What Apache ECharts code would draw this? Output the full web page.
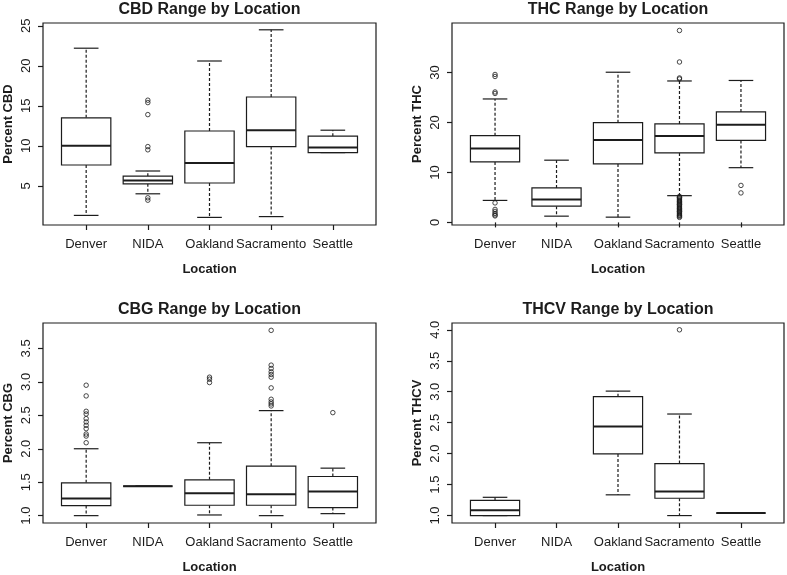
<!DOCTYPE html>
<html lang="en">
<head>
    <meta charset="utf-8"/>
    <title>Cannabinoid Range by Location</title>
    <script src="https://cdn.jsdelivr.net/npm/echarts@6/dist/echarts.min.js"></script>
    <style>
        html, body { margin: 0; background: #FFFFFF; }
        #chart { width: 787px; height: 575px; }
    </style>
</head>
<body>
<div id="chart"></div>
<script>
    // categories on every x axis
    var locations = ['Denver', 'NIDA', 'Oakland', 'Sacramento', 'Seattle'];

    // box stats per location: [min whisker, Q1, median, Q3, max whisker], null = no data
    var cbdBoxes = [
        [1.3, 7.6, 10.0, 13.5, 22.2],
        [4.0, 5.25, 5.65, 6.2, 6.85],
        [1.05, 5.35, 7.85, 11.85, 20.6],
        [1.15, 9.9, 11.95, 16.1, 24.5],
        [9.15, 9.15, 9.8, 11.2, 11.95]
    ];
    var cbdOutliers = [
        [],
        [15.7, 15.4, 13.9, 9.9, 9.5, 3.5, 3.2],
        [],
        [],
        []
    ];

    var thcBoxes = [
        [4.4, 12.1, 14.8, 17.35, 24.7],
        [1.25, 3.25, 4.6, 6.9, 12.45],
        [1.05, 11.7, 16.5, 19.95, 30.05],
        [5.35, 13.9, 17.3, 19.7, 28.3],
        [10.95, 16.4, 19.55, 22.1, 28.4]
    ];
    var thcOutliers = [
        [29.6, 29.2, 26.1, 25.8, 3.9, 2.6, 2.2, 1.8, 1.5, 1.3],
        [],
        [],
        [38.4, 32.1, 28.9, 28.7, 5.2, 5.0, 4.9, 4.7, 4.5, 4.3, 4.2, 4.0, 3.8, 3.6, 3.5,
         3.3, 3.1, 2.9, 2.8, 2.6, 2.4, 2.2, 2.1, 1.9, 1.7, 1.5, 1.4, 1.2, 1.0],
        [7.4, 5.9]
    ];

    var cbgBoxes = [
        [1.0, 1.15, 1.255, 1.49, 2.0],
        [1.44, 1.44, 1.44, 1.44, 1.44],
        [1.01, 1.155, 1.335, 1.535, 2.09],
        [1.0, 1.155, 1.32, 1.74, 2.57],
        [1.03, 1.12, 1.36, 1.585, 1.71]
    ];
    var cbgOutliers = [
        [2.95, 2.79, 2.56, 2.52, 2.45, 2.40, 2.35, 2.30, 2.22, 2.19, 2.09],
        [],
        [3.07, 3.04, 2.99],
        [3.77, 3.25, 3.20, 3.15, 3.11, 3.07, 2.91, 2.74, 2.70, 2.67, 2.64],
        [2.54]
    ];

    var thcvBoxes = [
        [1.0, 1.0, 1.085, 1.245, 1.295],
        null,
        [1.335, 1.995, 2.44, 2.92, 3.01],
        [1.0, 1.28, 1.39, 1.84, 2.64],
        [1.04, 1.04, 1.04, 1.04, 1.04]
    ];
    var thcvOutliers = [[], [], [], [4.0], []];

    // y tick labels per panel
    var cbdTicks = [5, 10, 15, 20, 25];
    var thcTicks = [0, 10, 20, 30];
    var cbgTicks = [1.0, 1.5, 2.0, 2.5, 3.0, 3.5];
    var thcvTicks = [1.0, 1.5, 2.0, 2.5, 3.0, 3.5, 4.0];

    var ink = '#1c1c1c';
    var font = 'Liberation Sans, Arial, Helvetica, sans-serif';

    var panels = [
        {title: 'CBD Range by Location', yName: 'Percent CBD', boxes: cbdBoxes, outliers: cbdOutliers,
            ticks: cbdTicks, digits: 0, yMin: 0.1, yMax: 25.35, titleY: 1.5,
            grid: {left: 43, top: 23, width: 333, height: 202}},
        {title: 'THC Range by Location', yName: 'Percent THC', boxes: thcBoxes, outliers: thcOutliers,
            ticks: thcTicks, digits: 0, yMin: -0.52, yMax: 39.9, titleY: 1.5,
            grid: {left: 452, top: 23, width: 332, height: 202}},
        {title: 'CBG Range by Location', yName: 'Percent CBG', boxes: cbgBoxes, outliers: cbgOutliers,
            ticks: cbgTicks, digits: 1, yMin: 0.89, yMax: 3.88, titleY: 302,
            grid: {left: 43, top: 323, width: 333, height: 202}},
        {title: 'THCV Range by Location', yName: 'Percent THCV', boxes: thcvBoxes, outliers: thcvOutliers,
            ticks: thcvTicks, digits: 1, yMin: 0.88, yMax: 4.11, titleY: 302,
            grid: {left: 452, top: 323, width: 332, height: 202}}
    ];

    // R style box: dashed whiskers, half width staples
    function renderBox(params, api) {
        var x = api.value(0);
        var lo = api.value(1), q1 = api.value(2), med = api.value(3), q3 = api.value(4), hi = api.value(5);
        var w = api.size([0.8, 0])[0];
        var cx = api.coord([x, med])[0];
        var y = function (v) { return api.coord([x, v])[1]; };
        var line = {stroke: ink, lineWidth: 1.2};
        var dash = {stroke: ink, lineWidth: 1.2, lineDash: [3, 2]};
        var kids = [
            {type: 'line', shape: {x1: cx, y1: y(q3), x2: cx, y2: y(hi)}, style: dash},
            {type: 'line', shape: {x1: cx, y1: y(q1), x2: cx, y2: y(lo)}, style: dash},
            {type: 'line', shape: {x1: cx - w / 4, y1: y(hi), x2: cx + w / 4, y2: y(hi)}, style: line},
            {type: 'line', shape: {x1: cx - w / 4, y1: y(lo), x2: cx + w / 4, y2: y(lo)}, style: line},
            {type: 'rect', shape: {x: cx - w / 2, y: y(q3), width: w, height: y(q1) - y(q3)},
                style: {fill: '#fff', stroke: ink, lineWidth: 1.2}},
            {type: 'line', shape: {x1: cx - w / 2, y1: y(med), x2: cx + w / 2, y2: y(med)},
                style: {stroke: ink, lineWidth: 2}}
        ];
        return {type: 'group', children: kids};
    }

    var grids = [], xAxes = [], yAxes = [], series = [], graphics = [];

    panels.forEach(function (p, i) {
        grids.push(Object.assign({show: true, borderColor: ink, borderWidth: 1.2, backgroundColor: 'transparent'}, p.grid));

        xAxes.push({
            type: 'value', gridIndex: i, min: 0.3, max: 5.7,
            name: 'Location', nameLocation: 'middle', nameGap: 38,
            nameTextStyle: {color: ink, fontSize: 13, fontWeight: 'bold', fontFamily: font},
            axisLine: {show: false},
            splitLine: {show: false},
            axisTick: {show: true, length: 5, customValues: [1, 2, 3, 4, 5], lineStyle: {color: ink, width: 1.2}},
            axisLabel: {
                customValues: [1, 2, 3, 4, 5], margin: 12.5, color: ink, fontSize: 13, fontFamily: font,
                formatter: function (v) { return locations[Math.round(v) - 1]; }
            }
        });

        yAxes.push({
            type: 'value', gridIndex: i, min: p.yMin, max: p.yMax,
            name: p.yName, nameLocation: 'middle', nameGap: 28.5, nameRotate: 90,
            nameTextStyle: {color: ink, fontSize: 13, fontWeight: 'bold', fontFamily: font},
            axisLine: {show: false},
            splitLine: {show: false},
            axisTick: {show: true, length: 5, customValues: p.ticks, lineStyle: {color: ink, width: 1.2}},
            axisLabel: {
                customValues: p.ticks, rotate: 90, margin: 10.5, color: ink, fontSize: 13, fontFamily: font,
                formatter: function (v) { return v.toFixed(p.digits); }
            }
        });

        var boxData = [];
        p.boxes.forEach(function (b, k) {
            if (b) boxData.push([k + 1].concat(b));
        });
        series.push({
            type: 'custom', xAxisIndex: i, yAxisIndex: i,
            renderItem: renderBox,
            encode: {x: 0, y: [1, 2, 3, 4, 5]},
            data: boxData
        });

        var pts = [];
        p.outliers.forEach(function (list, k) {
            list.forEach(function (v) { pts.push([k + 1, v]); });
        });
        series.push({
            type: 'scatter', xAxisIndex: i, yAxisIndex: i,
            symbol: 'circle', symbolSize: 4.5,
            itemStyle: {color: 'rgba(0,0,0,0)', borderColor: ink, borderWidth: 1},
            data: pts, z: 3
        });

        graphics.push({
            type: 'text',
            x: p.grid.left + p.grid.width / 2,
            y: p.titleY,
            style: {
                text: p.title, align: 'center', verticalAlign: 'top',
                fill: ink, fontSize: 16, fontWeight: 'bold', fontFamily: font
            }
        });
    });

    var chart = echarts.init(document.getElementById('chart'), null, {renderer: 'canvas'});
    chart.setOption({
        animation: false,
        backgroundColor: '#FFFFFF',
        grid: grids,
        xAxis: xAxes,
        yAxis: yAxes,
        series: series,
        graphic: graphics
    });
</script>
</body>
</html>
